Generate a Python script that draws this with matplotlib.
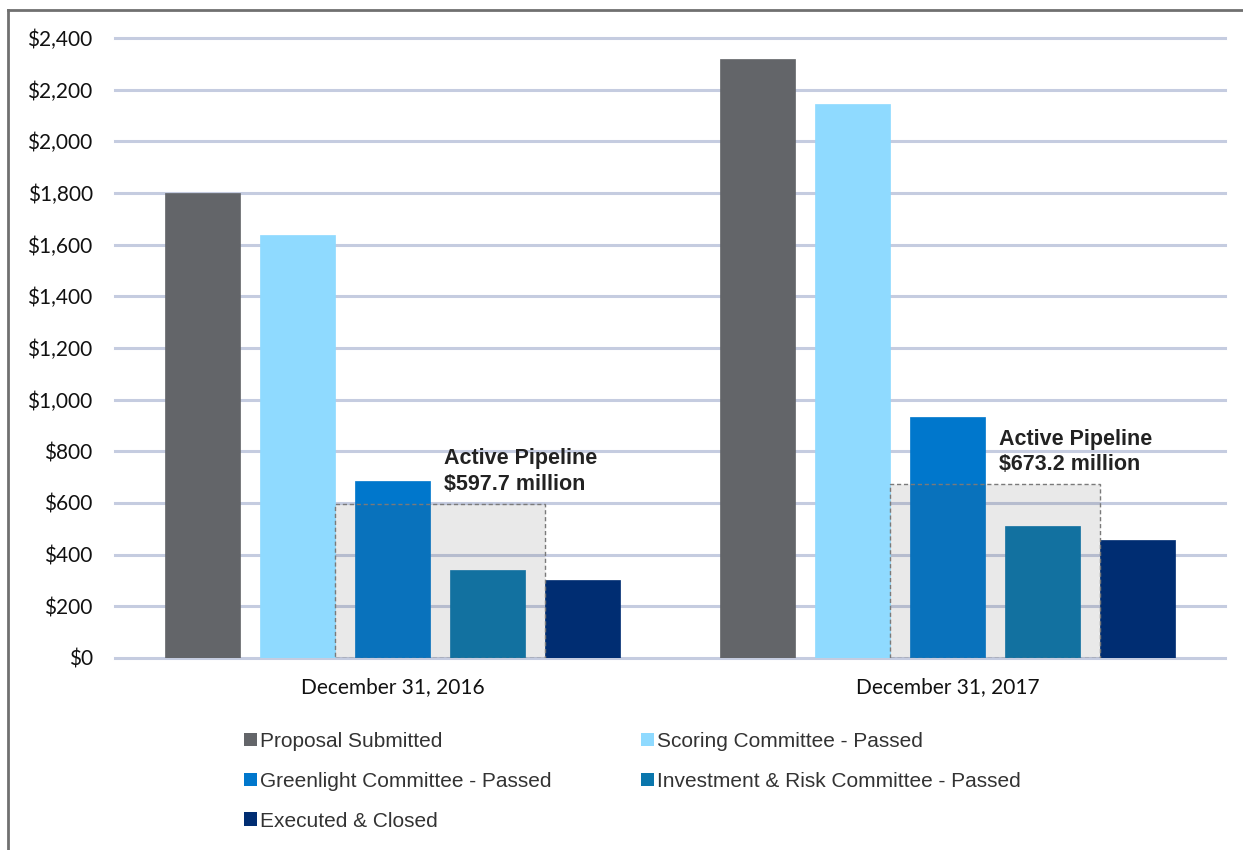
import numpy as np
import matplotlib
matplotlib.use("Agg")
from matplotlib import pyplot as plt
from matplotlib.patches import Rectangle, Patch
from matplotlib.lines import Line2D

# data ($ millions)
dates = ["December 31, 2016", "December 31, 2017"]
stages = ["Proposal Submitted", "Scoring Committee - Passed",
          "Greenlight Committee - Passed", "Investment & Risk Committee - Passed",
          "Executed & Closed"]
proposal = [1800, 2320]
scoring = [1637, 2145]
greenlight = [685, 933]
investment = [341, 511]
executed = [302, 457]
pipeline = [597.7, 673.2]
pipeline_labels = ["Active Pipeline\n$597.7 million", "Active Pipeline\n$673.2 million"]

colors = ["#636569", "#8FDAFF", "#0077CC", "#0A76AC", "#002D72"]
series = [proposal, scoring, greenlight, investment, executed]

fig = plt.figure(figsize=(12.43, 8.5), dpi=100)
ax = fig.add_axes([0.0925, 0.2259, 0.8930, 0.7294])

x = np.arange(len(dates))
width = 0.135
step = 0.171
offsets = (np.arange(len(series)) - 2) * step

for i, vals in enumerate(series):
    ax.bar(x + offsets[i], vals, width, color=colors[i], zorder=3,
           edgecolor=colors[i], linewidth=0.5)

# shaded "active pipeline" box over the greenlight + investment bars
for j in range(len(dates)):
    left = x[j] + offsets[2] - width / 2 - 0.036
    right = x[j] + offsets[3] + width / 2 + 0.036
    ax.add_patch(Rectangle((left, 0), right - left, pipeline[j],
                           facecolor=(0.31, 0.31, 0.31, 0.12),
                           edgecolor="#7a7a7a", linestyle=(0, (3, 2)),
                           linewidth=1.0, zorder=4))
    ax.text(x[j] + offsets[2] + 0.0928, pipeline[j] + 214, pipeline_labels[j],
            ha="left", va="top", fontsize=15.5, fontweight="bold",
            family="Liberation Sans", color="#222222", linespacing=1.28,
            zorder=5)

ax.set_xlim(-0.5, 1.5)
ax.set_ylim(0, 2400)
ax.set_yticks(np.arange(0, 2401, 200))
ax.set_yticklabels(["${:,}".format(v) for v in range(0, 2401, 200)],
                   family="Lato", fontsize=15, color="#111111")
ax.set_xticks(x)
ax.set_xticklabels(dates, family="Lato", fontsize=15, color="#111111")
ax.tick_params(axis="y", length=0, pad=16)
ax.tick_params(axis="x", length=0, pad=14)

ax.grid(axis="y", color="#C5CCE0", linewidth=2.2, zorder=0)
for gl in ax.get_ygridlines():
    gl.set_clip_on(False)
ax.set_axisbelow(True)
for s in ax.spines.values():
    s.set_visible(False)

# legend in row order of the reference (two columns)
handles = [Patch(facecolor=c, edgecolor="none") for c in colors]
order = [0, 2, 4, 1, 3]
fig.legend([handles[k] for k in order], [stages[k] for k in order],
           loc="upper left", bbox_to_anchor=(0.196, 0.139), ncol=2,
           frameon=False, prop={"family": "Liberation Sans", "size": 15},
           handlelength=0.62, handleheight=0.62, handletextpad=0.15,
           columnspacing=4.3, labelspacing=1.0, borderpad=0, borderaxespad=0,
           labelcolor="#333333")

# outer chart frame (top and left edges visible)
fig.add_artist(Line2D([8 / 1243, 1], [1 - 10 / 850, 1 - 10 / 850],
                      color="#707070", linewidth=2, transform=fig.transFigure))
fig.add_artist(Line2D([8 / 1243, 8 / 1243], [0, 1 - 10 / 850],
                      color="#707070", linewidth=2, transform=fig.transFigure))

fig.savefig("out.png", dpi=100)
